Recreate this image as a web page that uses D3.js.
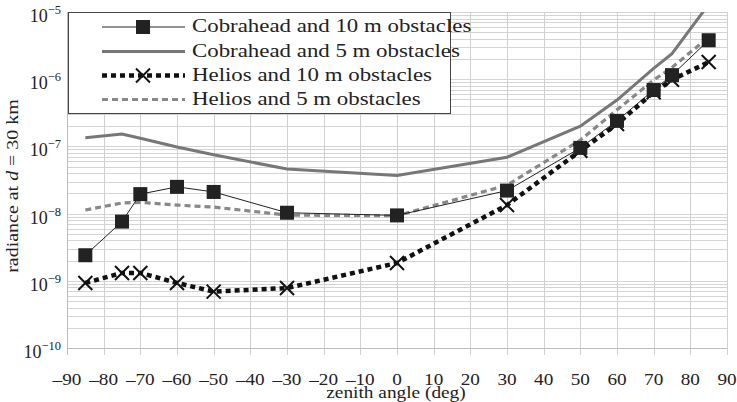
<!DOCTYPE html>
<html><head><meta charset="utf-8">
<script src="https://cdn.jsdelivr.net/npm/d3@7/dist/d3.min.js"></script>
<style>
html,body{margin:0;padding:0;background:#fff;}
</style></head>
<body><svg id="c" width="737" height="402" font-family="'Liberation Serif', 'DejaVu Serif', Tinos, serif"></svg>
<script>
const angles = [-85, -75, -70, -60, -50, -30, 0, 30, 50, 60, 70, 75, 85];
const cobra10 = [2.4e-9, 7.6e-9, 1.95e-8, 2.5e-8, 2.1e-8, 1.03e-8, 9.4e-9, 2.2e-8, 9.5e-8, 2.4e-7, 6.9e-7, 1.15e-6, 3.8e-6];
const cobra5  = [1.35e-7, 1.53e-7, 1.32e-7, 9.8e-8, 7.5e-8, 4.6e-8, 3.7e-8, 6.9e-8, 2.0e-7, 4.9e-7, 1.45e-6, 2.4e-6, 1.3e-5];
const helios10 = [9.3e-10, 1.31e-9, 1.31e-9, 9.3e-10, 6.9e-10, 7.8e-10, 1.84e-9, 1.34e-8, 8.6e-8, 2.15e-7, 6.4e-7, 9.8e-7, 1.8e-6];
const helios5 = [1.13e-8, 1.44e-8, 1.47e-8, 1.34e-8, 1.25e-8, 9.5e-9, 9.3e-9, 2.65e-8, 1.24e-7, 3.5e-7, 9.7e-7, 1.5e-6, 4.2e-6];
const seriesNames = ["Cobrahead and 10 m obstacles", "Cobrahead and 5 m obstacles", "Helios and 10 m obstacles", "Helios and 5 m obstacles"];
const xTicks = [-90,-80,-70,-60,-50,-40,-30,-20,-10,0,10,20,30,40,50,60,70,80,90];
const yExponents = [-5,-6,-7,-8,-9,-10];
const xTitle = "zenith angle (deg)";

const svg = d3.select("#c");
const FONT = "'Liberation Serif', 'DejaVu Serif', Tinos, serif";
const L = 67, R = 727, T = 12, B = 348;
const x = d3.scaleLinear().domain([-90, 90]).range([L, R]);
const y = d3.scaleLog().domain([1e-10, 1e-5]).range([B, T]);

function stretch(sel, f) {
  sel.each(function () {
    const w = this.getComputedTextLength();
    d3.select(this).attr("textLength", (w * f).toFixed(1)).attr("lengthAdjust", "spacingAndGlyphs");
  });
}

// grid
const g = svg.append("g");
const minor = [];
for (let e = -10; e < -5; e++) for (let m = 1; m <= 9; m++) minor.push(m * Math.pow(10, e));
minor.push(1e-5);
g.selectAll("line.h").data(minor).join("line")
  .attr("x1", L).attr("x2", R).attr("y1", d => Math.round(y(d)) + 0.5).attr("y2", d => Math.round(y(d)) + 0.5)
  .attr("stroke", "#d4d4d4").attr("stroke-width", 1);
g.selectAll("line.v").data(xTicks).join("line")
  .attr("x1", d => Math.round(x(d)) + 0.5).attr("x2", d => Math.round(x(d)) + 0.5)
  .attr("y1", T).attr("y2", B + 7)
  .attr("stroke", d => d === -90 ? "#bdbdbd" : "#d0d0d0").attr("stroke-width", 1);
g.append("line").attr("x1", L).attr("x2", R).attr("y1", B + 0.5).attr("y2", B + 0.5).attr("stroke", "#bdbdbd");

// x tick labels
const xl = svg.append("g").selectAll("text").data(xTicks).join("text")
  .attr("font-family", FONT).attr("fill", "#222")
  .attr("x", d => x(d)).attr("y", 385).attr("text-anchor", "middle")
  .attr("font-size", 16)
  .text(d => d < 0 ? "\u2013" + Math.abs(d) : String(d));
stretch(xl, 1.2);
const xt = svg.append("text").attr("font-family", FONT).attr("fill", "#222")
  .attr("x", 396).attr("y", 398).attr("text-anchor", "middle")
  .attr("font-size", 16.5).text(xTitle);
stretch(xt, 1.17);

// y tick labels
const yl = svg.append("g").selectAll("text").data(yExponents).join("text")
  .attr("font-family", FONT).attr("fill", "#222")
  .attr("x", 61).attr("y", d => y(Math.pow(10, d)) + 10).attr("text-anchor", "end")
  .attr("font-size", 18);
yl.append("tspan").text("10");
yl.append("tspan").attr("dy", -8).attr("font-size", 12.5).text(d => "\u2212" + Math.abs(d));

// y title
const yt = svg.append("text").attr("font-family", FONT).attr("fill", "#222")
  .attr("transform", "translate(18,186) rotate(-90)")
  .attr("text-anchor", "middle").attr("font-size", 17.5);
yt.append("tspan").text("radiance at ");
yt.append("tspan").attr("font-style", "italic").text("d");
yt.append("tspan").text(" = 30 km");
stretch(yt, 1.14);

// clip
svg.append("clipPath").attr("id", "clip").append("rect").attr("x", L).attr("y", T).attr("width", R - L).attr("height", B - T);
const plot = svg.append("g").attr("clip-path", "url(#clip)");
const line = d3.line().x((d, i) => x(angles[i])).y(d => y(d));

const styles = [
  {data: cobra10, stroke: "#222", width: 1, dash: null, marker: "square"},
  {data: cobra5, stroke: "#777", width: 3, dash: null, marker: null},
  {data: helios10, stroke: "#111", width: 4.5, dash: "5,4", marker: "x"},
  {data: helios5, stroke: "#888", width: 3.2, dash: "6,4", marker: null}
];
const drawOrder = [1, 3, 0, 2];
drawOrder.forEach(k => {
  const s = styles[k];
  plot.append("path").attr("d", line(s.data)).attr("fill", "none")
    .attr("stroke", s.stroke).attr("stroke-width", s.width)
    .attr("stroke-dasharray", s.dash);
});
function drawX(sel, cx, cy) {
  const h = 7;
  sel.append("path").attr("d", `M${cx-h},${cy-h}L${cx+h},${cy+h}M${cx-h},${cy+h}L${cx+h},${cy-h}`)
    .attr("stroke", "#111").attr("stroke-width", 2).attr("fill", "none");
}
helios10.forEach((v, i) => drawX(plot, x(angles[i]), y(v)));
plot.selectAll("rect.sq").data(cobra10).join("rect")
  .attr("x", (d, i) => x(angles[i]) - 7).attr("y", d => y(d) - 7)
  .attr("width", 14).attr("height", 14).attr("fill", "#222");

// legend
const lg = svg.append("g");
lg.append("rect").attr("x", 68.5).attr("y", 12.5).attr("width", 382).attr("height", 101)
  .attr("fill", "#fff").attr("stroke", "#444").attr("stroke-width", 1);
const rowsY = [27, 51.5, 75.5, 99.5];
seriesNames.forEach((name, i) => {
  const s = styles[i];
  const yy = rowsY[i];
  lg.append("line").attr("x1", 102).attr("x2", 185).attr("y1", yy).attr("y2", yy)
    .attr("stroke", s.stroke).attr("stroke-width", s.width).attr("stroke-dasharray", s.dash);
  if (s.marker === "square") lg.append("rect").attr("x", 143 - 7).attr("y", yy - 7).attr("width", 14).attr("height", 14).attr("fill", "#222");
  if (s.marker === "x") drawX(lg, 143, yy);
  const t = lg.append("text").attr("font-family", FONT).attr("fill", "#222")
    .attr("x", 192).attr("y", yy + 5).attr("font-size", 18).text(name);
  stretch(t, 1.27);
});
</script></body></html>
